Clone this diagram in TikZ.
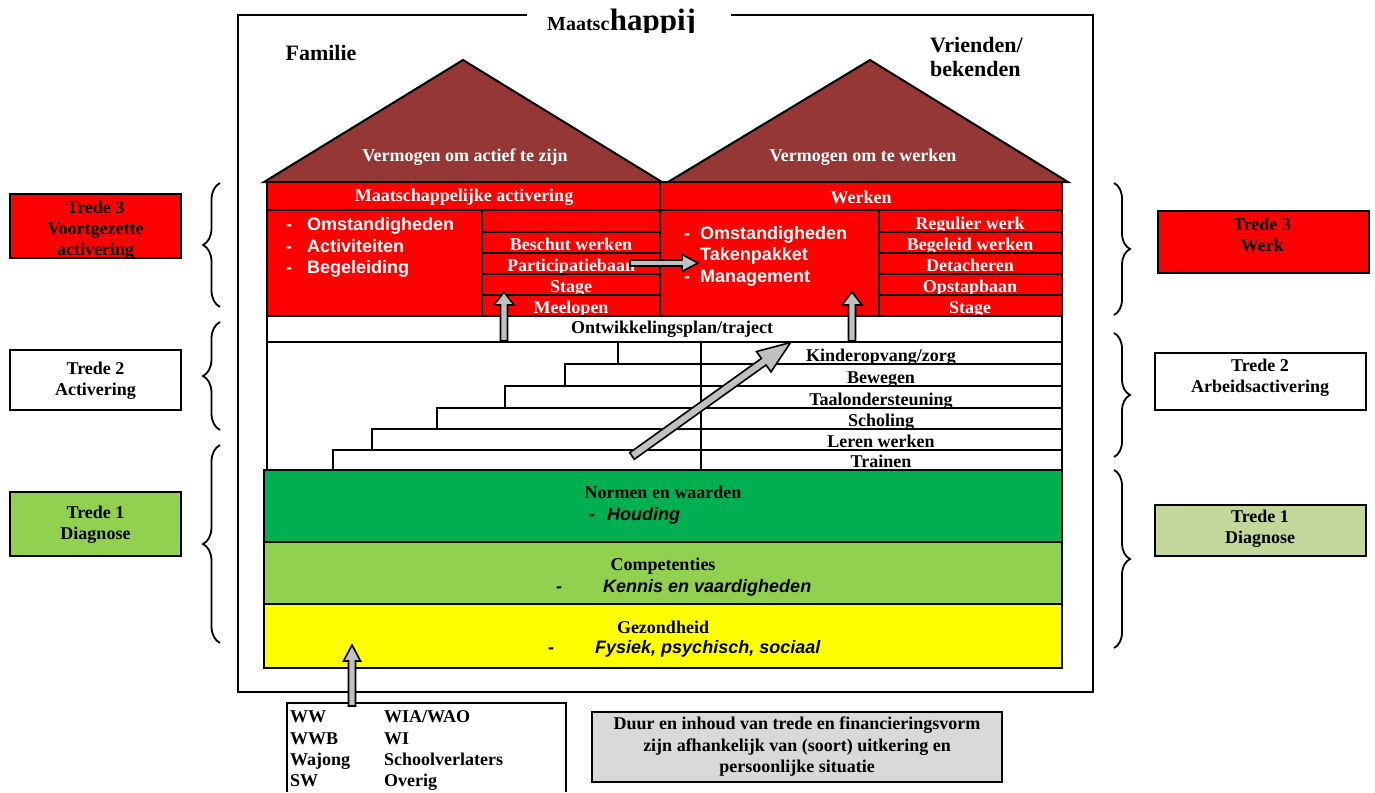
\documentclass[tikz,border=0pt]{standalone}
\usepackage{fontspec}
\setmainfont{Liberation Serif}
\setsansfont{Liberation Sans}
\usetikzlibrary{decorations.pathreplacing}
\definecolor{roofc}{HTML}{953735}
\definecolor{redc}{HTML}{FF0000}
\definecolor{greenc}{HTML}{00B050}
\definecolor{lgreenc}{HTML}{92D050}
\definecolor{yellowc}{HTML}{FFFF00}
\definecolor{olivec}{HTML}{C4D79B}
\definecolor{grayboxc}{HTML}{D9D9D9}
\definecolor{arrgray}{HTML}{C0C0C0}
% #1 start, #2 angle, #3 length, #4 shaft half width, #5 head half width, #6 head length
\newcommand\myblockarrow[6]{%
  \begin{scope}[shift={(#1)},rotate=#2]
    \draw[blockarr] (0,#4) -- ({#3-#6},#4) -- ({#3-#6},#5) -- (#3,0)
      -- ({#3-#6},-#5) -- ({#3-#6},-#4) -- (0,-#4) -- cycle;
  \end{scope}}
\begin{document}
\begin{tikzpicture}[x=1pt,y=-1pt,
  every node/.style={inner sep=0pt},
  lbl/.style={font=\fontsize{18}{21}\selectfont\bfseries, align=center},
  wlbl/.style={lbl, text=white},
  cellbase/.style={anchor=base, font=\fontsize{18}{21}\selectfont\bfseries},
  wcell/.style={cellbase, text=white},
  wlist/.style={anchor=base west, text=white, font=\fontsize{18}{21}\selectfont\sffamily\bfseries},
  ilist/.style={anchor=base west, font=\fontsize{18}{21}\selectfont\sffamily\bfseries\itshape},
  ulist/.style={anchor=base west, font=\fontsize{18}{21}\selectfont\bfseries},
  cell/.style={draw, line width=2pt},
  band/.style={draw, line width=2.5pt},
  sidebox/.style={draw, line width=2.5pt},
  blockarr/.style={draw, line width=1.6pt, fill=arrgray, line join=miter},
  mybrace/.style={decorate, decoration={brace, amplitude=#1}, line width=1.8pt},
  frame/.style={draw, line width=2pt}
]
\useasboundingbox (0,0) rectangle (1375,792);

% outer frame "Maatschappij"
\draw[frame] (527,15) -- (238,15) -- (238,692) -- (1093,692) -- (1093,15) -- (731,15);
\begin{scope}
  \clip (540,0) rectangle (720,33);
  \node[anchor=base west, font=\fontsize{20}{20}\selectfont\bfseries] (title1) at (547,31) {Maatsc};
  \node[anchor=base west, font=\fontsize{31}{31}\selectfont\bfseries] (title2) at (title1.base east) {happij};
\end{scope}
\node[font=\fontsize{22}{24}\selectfont\bfseries] (fam) at (321,53) {Familie};
\node[anchor=west, align=left, font=\fontsize{22}{24}\selectfont\bfseries] (vri) at (930,57) {Vrienden/\\bekenden};

% roofs
\draw[cell, fill=roofc, line join=miter] (264,182) -- (463,60) -- (662,182) -- cycle;
\draw[cell, fill=roofc, line join=miter] (668,182) -- (870,60) -- (1068,182) -- cycle;
\node[wlbl] (roofL) at (465,157) {Vermogen om actief te zijn};
\node[wlbl] (roofR) at (863,157) {Vermogen om te werken};

% red block headers
\draw[cell, fill=redc] (267,182) rectangle (660,210);
\draw[cell, fill=redc] (660,182) rectangle (1062,210);
\node[wlbl] (hdrL) at (464,197) {Maatschappelijke activering};
\node[wlbl] (hdrR) at (861,197) {Werken};

% left part
\draw[cell, fill=redc] (267,210) rectangle (482,316);
\foreach \ya/\yb/\t [count=\i] in {210/232/{}, 232/253/Beschut werken, 253/274/Participatiebaan, 274/295/Stage, 295/316/Meelopen} {
  \draw[cell, fill=redc] (482,\ya) rectangle (660,\yb);
  \node[wcell] (ml\i) at (571,{\yb-3}) {\t};
}
\foreach \yy/\t [count=\i] in {230/Omstandigheden, 252/Activiteiten, 273/Begeleiding} {
  \node[wlist] (lda\i) at (286,\yy) {-};
  \node[wlist] (ldt\i) at (307,\yy) {\t};
}

% right part
\draw[cell, fill=redc] (660,210) rectangle (879,316);
\foreach \ya/\yb/\t [count=\i] in {210/232/Regulier werk, 232/253/Begeleid werken, 253/274/Detacheren, 274/295/Opstapbaan, 295/316/Stage} {
  \draw[cell, fill=redc] (879,\ya) rectangle (1062,\yb);
  \node[wcell] (mr\i) at (970,{\yb-3}) {\t};
}
\node[wlist] (rda1) at (684,239) {-};
\node[wlist] (rdt1) at (700,239) {Omstandigheden};
\node[wlist] (rdt2) at (700,260) {Takenpakket};
\node[wlist] (rda3) at (684,282) {-};
\node[wlist] (rdt3) at (700,282) {Management};

% development plan row
\draw[cell, fill=white] (267,316) rectangle (1062,342);
\node[lbl] (plan) at (672,329) {Ontwikkelingsplan/traject};

% staircase
\draw[cell] (267,342) -- (267,470);
\foreach \xl/\ya/\yb [count=\i] in {618/342/364, 565/364/386, 505/386/408, 437/408/429, 372/429/450, 333/450/470} {
  \draw[cell, fill=white] (\xl,\ya) rectangle (701,\yb);
}
\foreach \ya/\yb/\t [count=\i] in {342/364/{Kinderopvang/zorg}, 364/386/Bewegen, 386/408/Taalondersteuning, 408/429/Scholing, 429/450/Leren werken, 450/470/Trainen} {
  \draw[cell, fill=white] (701,\ya) rectangle (1062,\yb);
  \node[cellbase] (st\i) at (881,{\yb-3}) {\t};
}

% foundation bands
\draw[band, fill=greenc] (264,470) rectangle (1062,542);
\node[lbl] (norm) at (663,492) {Normen en waarden};
\node[ilist] (normd) at (589,520) {-};
\node[ilist] (normt) at (607,520) {Houding};
\draw[band, fill=lgreenc] (264,542) rectangle (1062,604);
\node[lbl] (comp) at (663,566) {Competenties};
\node[ilist] (compd) at (556,592) {-};
\node[ilist] (compt) at (603,592) {Kennis en vaardigheden};
\draw[band, fill=yellowc] (264,604) rectangle (1062,668);
\node[lbl] (gez) at (663,627) {Gezondheid};
\node[ilist] (gezd) at (548,653) {-};
\node[ilist] (gezt) at (595,653) {Fysiek, psychisch, sociaal};

% block arrows
\myblockarrow{630,263}{0}{68}{3}{8.5}{16}
\myblockarrow{504,341}{90}{49}{3.5}{10}{13}
\myblockarrow{852,341}{90}{49}{3.5}{10}{13}
\myblockarrow{632,456}{35.6}{195}{4}{12.5}{33}

% side boxes left
\draw[sidebox, fill=redc] (10,194) rectangle (181,258);
\node[lbl] (l3) at (95.5,230) {Trede 3\\Voortgezette\\activering};
\draw[sidebox, fill=white] (10,350) rectangle (181,410);
\node[lbl] (l2) at (95.5,381) {Trede 2\\Activering};
\draw[sidebox, fill=lgreenc] (10,492) rectangle (181,556);
\node[lbl] (l1) at (95.5,525) {Trede 1\\Diagnose};

% side boxes right
\draw[sidebox, fill=redc] (1158,211) rectangle (1369,273);
\node[lbl] (r3) at (1262,235) {Trede 3\\Werk};
\draw[sidebox, fill=white] (1155,353) rectangle (1366,410);
\node[lbl] (r2) at (1260,378) {Trede 2\\Arbeidsactivering};
\draw[sidebox, fill=olivec] (1155,505) rectangle (1366,556);
\node[lbl] (r1) at (1260,529) {Trede 1\\Diagnose};

% braces
\coordinate (bl1a) at (220,307); \coordinate (bl1b) at (220,183);
\coordinate (bl2a) at (220,430); \coordinate (bl2b) at (220,322);
\coordinate (bl3a) at (220,643); \coordinate (bl3b) at (220,445);
\draw[mybrace=17] (bl1a) -- (bl1b);
\draw[mybrace=17] (bl2a) -- (bl2b);
\draw[mybrace=17] (bl3a) -- (bl3b);
\coordinate (br1a) at (1114,183); \coordinate (br1b) at (1114,315);
\coordinate (br2a) at (1114,333); \coordinate (br2b) at (1114,457);
\coordinate (br3a) at (1114,470); \coordinate (br3b) at (1114,648);
\draw[mybrace=16] (br1a) -- (br1b);
\draw[mybrace=16] (br2a) -- (br2b);
\draw[mybrace=16] (br3a) -- (br3b);

% bottom boxes
\draw[line width=1.5pt] (287,792) -- (287,703) -- (566,703) -- (566,792);
\foreach \yy/\a/\b [count=\i] in {722/WW/{WIA/WAO}, 744/WWB/WI, 765/Wajong/Schoolverlaters, 786/SW/Overig} {
  \node[ulist] (ua\i) at (290,\yy) {\a};
  \node[ulist] (ub\i) at (384,\yy) {\b};
}
\draw[sidebox, fill=grayboxc, line width=1.8pt] (592,712) rectangle (1002,782);
\node[font=\fontsize{18}{21.5}\selectfont\bfseries, align=center] (dur) at (797,747)
  {Duur en inhoud van trede en financieringsvorm\\zijn afhankelijk van (soort) uitkering en\\persoonlijke situatie};

\myblockarrow{352,706}{90}{61}{3.5}{8.5}{16}
\end{tikzpicture}
\end{document}
